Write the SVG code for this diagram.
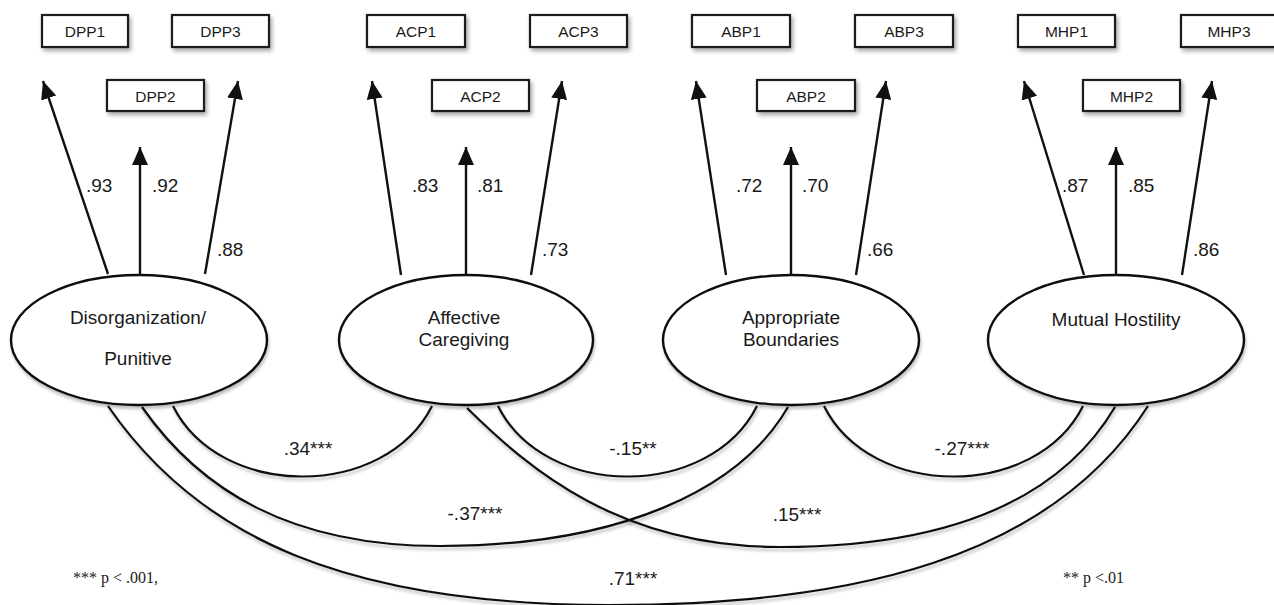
<svg xmlns="http://www.w3.org/2000/svg" width="1274" height="605" viewBox="0 0 1274 605">
<defs>
<filter id="sh" x="-20%" y="-20%" width="150%" height="160%">
<feDropShadow dx="2" dy="3" stdDeviation="2" flood-color="#000" flood-opacity="0.35"/>
</filter>
<filter id="sl" x="-10%" y="-10%" width="120%" height="130%">
<feDropShadow dx="1" dy="3" stdDeviation="1.8" flood-color="#000" flood-opacity="0.25"/>
</filter>
<marker id="ah" markerWidth="18" markerHeight="16" refX="18" refY="8" orient="auto" markerUnits="userSpaceOnUse">
<path d="M0,0 L18,8 L0,16 z" fill="#111"/>
</marker>
</defs>
<style>
.box{fill:#fff;stroke:#1a1a1a;stroke-width:2.2;filter:url(#sh)}
.bt{font-family:"Liberation Sans",Arial,sans-serif;font-size:15.5px;fill:#1a1a1a;text-anchor:middle}
.ell{fill:#fff;stroke:#111;stroke-width:2.4;filter:url(#sl)}
.et{font-family:"Liberation Sans",Arial,sans-serif;font-size:19px;fill:#1a1a1a;text-anchor:middle}
.ar{stroke:#111;stroke-width:2.4;fill:none;marker-end:url(#ah)}
.cv{stroke:#111;stroke-width:2.2;fill:none;filter:url(#sl)}
.lb{font-family:"Liberation Sans",Arial,sans-serif;font-size:19px;fill:#1a1a1a}
.cl{font-family:"Liberation Sans",Arial,sans-serif;font-size:19px;fill:#1a1a1a;text-anchor:middle}
.fn{font-family:"Liberation Serif","Times New Roman",serif;font-size:16px;fill:#1a1a1a}
</style>

<g id="indicators">
<g id="DPP1"><rect class="box" x="42" y="15" width="86" height="32"/><text class="bt" x="85" y="37">DPP1</text></g>
<g id="DPP2"><rect class="box" x="107" y="80" width="97" height="31"/><text class="bt" x="155.5" y="102">DPP2</text></g>
<g id="DPP3"><rect class="box" x="172" y="15" width="97" height="32"/><text class="bt" x="220.5" y="37">DPP3</text></g>
<g id="ACP1"><rect class="box" x="367" y="15" width="98" height="32"/><text class="bt" x="416" y="37">ACP1</text></g>
<g id="ACP2"><rect class="box" x="432" y="80" width="97" height="31"/><text class="bt" x="480.5" y="102">ACP2</text></g>
<g id="ACP3"><rect class="box" x="530" y="15" width="97" height="32"/><text class="bt" x="578.5" y="37">ACP3</text></g>
<g id="ABP1"><rect class="box" x="692" y="15" width="98" height="32"/><text class="bt" x="741" y="37">ABP1</text></g>
<g id="ABP2"><rect class="box" x="757" y="80" width="98" height="31"/><text class="bt" x="806" y="102">ABP2</text></g>
<g id="ABP3"><rect class="box" x="855" y="15" width="98" height="32"/><text class="bt" x="904" y="37">ABP3</text></g>
<g id="MHP1"><rect class="box" x="1018" y="15" width="97" height="32"/><text class="bt" x="1066.5" y="37">MHP1</text></g>
<g id="MHP2"><rect class="box" x="1083" y="80" width="97" height="31"/><text class="bt" x="1131.5" y="102">MHP2</text></g>
<g id="MHP3"><rect class="box" x="1181" y="15" width="98" height="32"/><text class="bt" x="1229" y="37">MHP3</text></g>
</g>

<g id="connectors">
<line class="ar" x1="108" y1="274" x2="43" y2="81"/>
<line class="ar" x1="140" y1="274" x2="140" y2="147"/>
<line class="ar" x1="205" y1="274" x2="238" y2="81"/>
<line class="ar" x1="401" y1="275" x2="372" y2="81"/>
<line class="ar" x1="466" y1="275" x2="466" y2="147"/>
<line class="ar" x1="531" y1="275" x2="562" y2="81"/>
<line class="ar" x1="726" y1="275" x2="696" y2="81"/>
<line class="ar" x1="791" y1="275" x2="791" y2="147"/>
<line class="ar" x1="856" y1="275" x2="886" y2="81"/>
<line class="ar" x1="1084" y1="275" x2="1024" y2="81"/>
<line class="ar" x1="1116" y1="275" x2="1116" y2="147"/>
<line class="ar" x1="1182" y1="275" x2="1212" y2="81"/>

<path class="cv" d="M173,406 C220,500 385,500 432,406"/>
<path class="cv" d="M498,406 C545,500 710,500 757,406"/>
<path class="cv" d="M824,406 C871,500 1036,500 1083,406"/>
<path class="cv" d="M142,407 C200,490 290,546 440,546 C620,546 740,490 788,407"/>
<path class="cv" d="M467,408 C530,470 620,547 780,547 C950,547 1060,500 1115,407"/>
<path class="cv" d="M108,406 C200,540 350,605 610,605 C850,605 1050,560 1148,406"/>
</g>

<g id="labels">
<text class="lb" x="86" y="192">.93</text>
<text class="lb" x="152" y="192">.92</text>
<text class="lb" x="217" y="256">.88</text>
<text class="lb" x="412" y="192">.83</text>
<text class="lb" x="477" y="192">.81</text>
<text class="lb" x="542" y="256">.73</text>
<text class="lb" x="736" y="192">.72</text>
<text class="lb" x="802" y="192">.70</text>
<text class="lb" x="867" y="256">.66</text>
<text class="lb" x="1062" y="192">.87</text>
<text class="lb" x="1128" y="192">.85</text>
<text class="lb" x="1193" y="256">.86</text>
<text class="cl" x="308" y="455">.34***</text>
<text class="cl" x="633" y="455">-.15**</text>
<text class="cl" x="962" y="455">-.27***</text>
<text class="cl" x="475" y="520">-.37***</text>
<text class="cl" x="797" y="521">.15***</text>
<text class="cl" x="633" y="585">.71***</text>
<text class="fn" x="73" y="583">*** p &lt; .001,</text>
<text class="fn" x="1063" y="583">** p &lt;.01</text>
</g>

<g id="Disorganization">
<ellipse class="ell" cx="139" cy="340" rx="128" ry="65"/>
<text class="et" x="138" y="324">Disorganization/</text>
<text class="et" x="138" y="365">Punitive</text>
</g>
<g id="Affective">
<ellipse class="ell" cx="466" cy="340" rx="127" ry="65"/>
<text class="et" x="464" y="324">Affective</text>
<text class="et" x="464" y="346">Caregiving</text>
</g>
<g id="Appropriate">
<ellipse class="ell" cx="791" cy="340" rx="128" ry="65"/>
<text class="et" x="791" y="324">Appropriate</text>
<text class="et" x="791" y="346">Boundaries</text>
</g>
<g id="Mutual">
<ellipse class="ell" cx="1116" cy="340" rx="128" ry="65"/>
<text class="et" x="1116" y="326">Mutual Hostility</text>
</g>
</svg>
